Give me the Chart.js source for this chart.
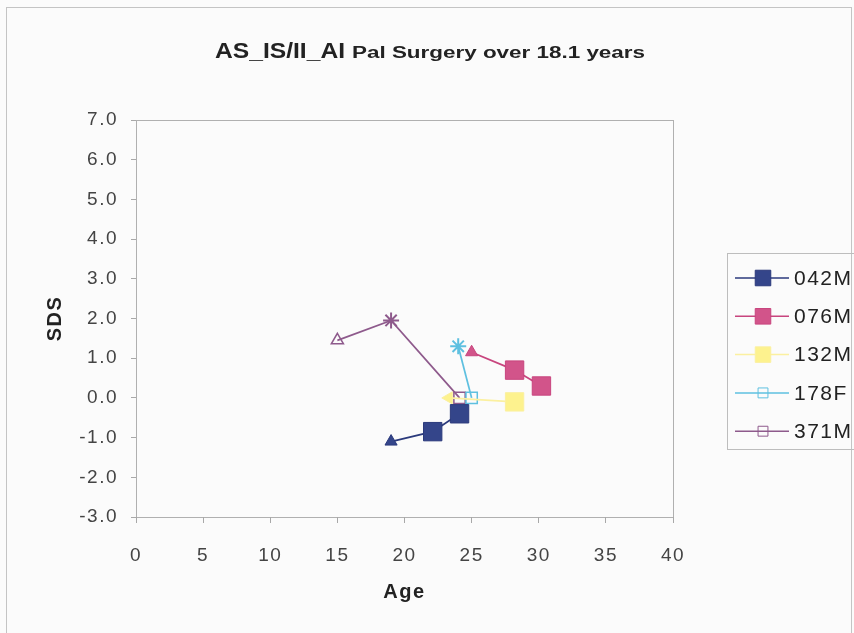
<!DOCTYPE html>
<html>
<head>
<meta charset="utf-8">
<script src="https://cdn.jsdelivr.net/npm/chart.js@4.4.0/dist/chart.umd.min.js"></script>
<style>
  body { margin: 0; background: #fbfbfb; }
  #wrap { width: 854px; height: 633px; }
</style>
</head>
<body>
<div id="wrap"><canvas id="chart" width="854" height="633"></canvas></div>
<script>
// values
const seriesNames = ["042M", "076M", "132M", "178F", "371M"];
const ages042M = [19, 22.1, 24.1];
const sds042M = [-1.1, -0.85, -0.4];
const ages076M = [25, 28.2, 30.2];
const sds076M = [1.15, 0.7, 0.3];
const ages132M = [23.3, 28.2];
const sds132M = [0.0, -0.1];
const ages178F = [24.0, 25.0];
const sds178F = [1.3, 0.0];
const ages371M = [15, 19, 24.1];
const sds371M = [1.45, 1.95, 0.0];
const xTicks = [0, 5, 10, 15, 20, 25, 30, 35, 40];
const yTicks = [-3, -2, -1, 0, 1, 2, 3, 4, 5, 6, 7];

function pts(xs, ys) {
  return xs.map(function (x, i) { return { x: x, y: ys[i] }; });
}

const FONT = "'Liberation Sans', Arial, sans-serif";

const frame = {
  id: "frame",
  beforeDraw: function (chart) {
    var ctx = chart.ctx;
    ctx.letterSpacing = "1.5px";
    ctx.save();
    ctx.fillStyle = "#fbfbfb";
    ctx.fillRect(0, 0, chart.width, chart.height);
    ctx.strokeStyle = "#c4c4c4";
    ctx.lineWidth = 1;
    ctx.strokeRect(6.5, 7.5, 845, 640);
    var a = chart.chartArea;
    ctx.strokeStyle = "#b0b0b0";
    ctx.strokeRect(a.left + 0.5, a.top + 0.5, a.right - a.left, a.bottom - a.top);
    ctx.restore();
  },
  afterDraw: function (chart) {
    var ctx = chart.ctx;
    ctx.save();
    // title, two sizes
    ctx.fillStyle = "#222";
    ctx.textBaseline = "alphabetic";
    ctx.letterSpacing = "0px";
    ctx.font = "bold 22px " + FONT;
    var t1 = "AS_IS/II_AI";
    var w1 = ctx.measureText(t1).width;
    ctx.save();
    ctx.translate(215, 58);
    ctx.scale(130 / w1, 1);
    ctx.fillText(t1, 0, 0);
    ctx.restore();
    ctx.font = "bold 16px " + FONT;
    var t2 = "Pal Surgery over 18.1 years";
    var w2 = ctx.measureText(t2).width;
    ctx.save();
    ctx.translate(352, 58);
    ctx.scale(293 / w2, 1);
    ctx.fillText(t2, 0, 0);
    ctx.restore();

    // legend
    ctx.strokeStyle = "#bdbdbd";
    ctx.lineWidth = 1;
    ctx.strokeRect(727.5, 253.5, 140, 196);
    ctx.letterSpacing = "1.5px";
    ctx.font = "21px " + FONT;
    ctx.textBaseline = "middle";
    chart.data.datasets.forEach(function (ds, i) {
      var y = 278 + i * 38.3;
      ctx.strokeStyle = ds.borderColor;
      ctx.lineWidth = 1.5;
      ctx.beginPath();
      ctx.moveTo(735, y);
      ctx.lineTo(789, y);
      ctx.stroke();
      ctx.fillStyle = ds.legendFill;
      ctx.strokeStyle = ds.borderColor;
      ctx.lineWidth = 1;
      Chart.helpers.drawPoint(ctx, { pointStyle: "rect", rotation: 0, borderWidth: 1, radius: ds.legendRadius }, 763, y);
      ctx.fillStyle = "#222";
      ctx.fillText(ds.label, 794, y + 1);
    });
    ctx.restore();
  }
};

const ctx = document.getElementById("chart").getContext("2d");
const myChart = new Chart(ctx, {
  type: "line",
  data: {
    datasets: [
      {
        label: seriesNames[0],
        data: pts(ages042M, sds042M),
        borderColor: "#2b3a7c",
        backgroundColor: "#34458a",
        legendFill: "#34458a",
        legendRadius: 11,
        borderWidth: 1.75,
        pointStyle: ["triangle", "rect", "rect"],
        pointRadius: [7, 13, 13],
        pointBorderWidth: 1,
      },
      {
        label: seriesNames[1],
        data: pts(ages076M, sds076M),
        borderColor: "#c8457e",
        backgroundColor: "#d2548a",
        legendFill: "#d2548a",
        legendRadius: 11,
        borderWidth: 1.75,
        pointStyle: ["triangle", "rect", "rect"],
        pointRadius: [7, 13, 13],
        pointBorderWidth: 1,
      },
      {
        label: seriesNames[2],
        data: pts(ages132M, sds132M),
        borderColor: "#fbf0a0",
        backgroundColor: "#fdf28e",
        legendFill: "#fdf28e",
        legendRadius: 11,
        borderWidth: 1.75,
        pointStyle: ["triangle", "rect"],
        pointRotation: [-90, 0],
        pointRadius: [7, 13],
        pointBorderWidth: 1,
      },
      {
        label: seriesNames[3],
        data: pts(ages178F, sds178F),
        borderColor: "#5ec0e0",
        backgroundColor: "rgba(0,0,0,0)",
        legendFill: "rgba(0,0,0,0)",
        legendRadius: 7,
        borderWidth: 1.75,
        pointStyle: ["star", "rect"],
        pointRadius: [8, 8],
        pointBorderWidth: [2, 1.5],
      },
      {
        label: seriesNames[4],
        data: pts(ages371M, sds371M),
        borderColor: "#8e5a8c",
        backgroundColor: "rgba(0,0,0,0)",
        legendFill: "rgba(0,0,0,0)",
        legendRadius: 7,
        borderWidth: 1.75,
        pointStyle: ["triangle", "star", "rect"],
        pointRadius: [7, 8, 8],
        pointBorderWidth: [1.5, 2, 1.5],
      },
    ],
  },
  options: {
    responsive: false,
    animation: false,
    layout: { padding: { top: 120, right: 181, bottom: 0, left: 0 } },
    plugins: {
      legend: { display: false },
      tooltip: { enabled: false },
    },
    scales: {
      x: {
        type: "linear",
        min: xTicks[0],
        max: xTicks[xTicks.length - 1],
        afterBuildTicks: function (scale) {
          scale.ticks = xTicks.map(function (v) { return { value: v }; });
        },
        afterFit: function (scale) { scale.height = 116; },
        grid: { drawOnChartArea: false, tickLength: 6, color: "#a8a8a8" },
        border: { display: false },
        ticks: { padding: 21, color: "#444", font: { family: FONT, size: 19 } },
        title: {
          display: true,
          text: "Age",
          color: "#222",
          font: { family: FONT, size: 20, weight: "bold" },
          padding: { top: 0, bottom: 29 },
        },
      },
      y: {
        type: "linear",
        min: yTicks[0],
        max: yTicks[yTicks.length - 1],
        afterBuildTicks: function (scale) {
          scale.ticks = yTicks.map(function (v) { return { value: v }; });
        },
        afterFit: function (scale) { scale.width = 136; },
        grid: { drawOnChartArea: false, tickLength: 5, color: "#a8a8a8" },
        border: { display: false },
        ticks: {
          padding: 13,
          color: "#444",
          font: { family: FONT, size: 19 },
          callback: function (v) { return Number(v).toFixed(1); },
        },
        title: {
          display: true,
          text: "SDS",
          color: "#222",
          font: { family: FONT, size: 20, weight: "bold" },
          padding: { top: 43, bottom: 0 },
        },
      },
    },
  },
  plugins: [frame],
});
</script>
</body>
</html>
